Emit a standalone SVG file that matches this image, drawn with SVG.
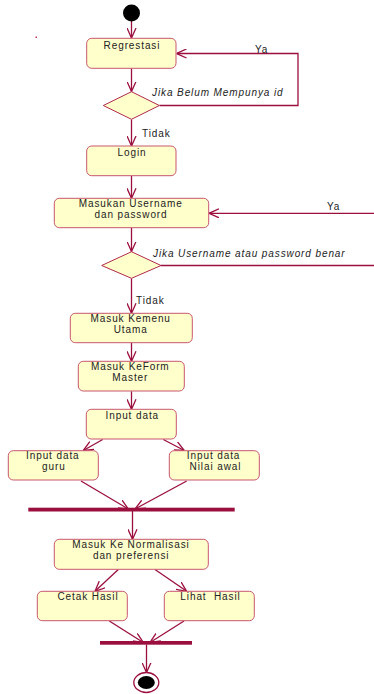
<svg xmlns="http://www.w3.org/2000/svg" width="374" height="694" viewBox="0 0 374 694">
<style>
.bg{fill:#ffffff}
.box{fill:#ffffcc;stroke:#c8566e;stroke-width:1}
.dia{fill:#ffffcc;stroke:#b0284c;stroke-width:1}
.ln{fill:none;stroke:#9b0f3e;stroke-width:1.3}
.arr{fill:none;stroke:#9b0f3e;stroke-width:1.3;marker-end:url(#ah)}
.bar{fill:#9b0f3e}
.t{font-family:"Liberation Sans",Arial,sans-serif;font-size:10px;fill:#222;letter-spacing:0.9px}
.c{text-anchor:middle}
.i{font-style:italic}
</style>
<defs>
<marker id="ah" viewBox="0 0 10 10" refX="10" refY="5" markerWidth="10" markerHeight="10" markerUnits="userSpaceOnUse" orient="auto">
<path d="M0,0.5 L10,5 L0,9.5" fill="none" stroke="#9b0f3e" stroke-width="1.3"/>
</marker>
</defs>
<rect class="bg" x="0" y="0" width="374" height="694"/>
<rect x="35.5" y="36.5" width="1.5" height="1.5" fill="#c0306a"/>

<g id="connectors">
<line class="arr" x1="131.5" y1="21" x2="131.5" y2="38"/>
<line class="arr" x1="131.5" y1="68.5" x2="131.5" y2="91.5"/>
<polyline class="arr" points="159.5,105.5 298,105.5 298,53.5 176.5,53.5"/>
<line class="arr" x1="131.5" y1="119.5" x2="131.5" y2="146"/>
<line class="arr" x1="131.5" y1="176" x2="131.5" y2="198.3"/>
<line class="arr" x1="374" y1="213.3" x2="209" y2="213.3"/>
<line class="arr" x1="131.5" y1="228" x2="131.5" y2="251.5"/>
<line class="ln" x1="161" y1="265.5" x2="374" y2="265.5"/>
<line class="arr" x1="131.5" y1="278.5" x2="131.5" y2="313.3"/>
<line class="arr" x1="131.5" y1="343" x2="131.5" y2="361.3"/>
<line class="arr" x1="131.5" y1="391.3" x2="131.5" y2="409.3"/>
<line class="arr" x1="102.7" y1="439.5" x2="83.3" y2="450.5"/>
<line class="arr" x1="163.3" y1="439.5" x2="184.3" y2="450.5"/>
<line class="arr" x1="81" y1="481" x2="128.3" y2="509"/>
<line class="arr" x1="186.7" y1="481" x2="135" y2="509"/>
<line class="arr" x1="132.5" y1="511" x2="132.5" y2="539.3"/>
<line class="arr" x1="118.3" y1="569.5" x2="95" y2="591.3"/>
<line class="arr" x1="155" y1="569.5" x2="186.7" y2="591.3"/>
<line class="arr" x1="109.3" y1="621" x2="143.3" y2="642.5"/>
<line class="arr" x1="184" y1="621" x2="150" y2="642.5"/>
<line class="arr" x1="146.5" y1="644.5" x2="146.5" y2="672.5"/>
<text class="t" x="255" y="53">Ya</text>
<text class="t i" x="152" y="96">Jika Belum Mempunya id</text>
<text class="t" x="142" y="137">Tidak</text>
<text class="t" x="327" y="210">Ya</text>
<text class="t i" x="153" y="256.5">Jika Username atau password benar</text>
<text class="t" x="136" y="303.5">Tidak</text>
</g>

<g id="start"><circle cx="131.5" cy="13" r="8.5" fill="#000"/></g>

<g id="regrestasi">
<rect class="box" x="86.7" y="38.3" width="89.3" height="30" rx="5"/>
<text class="t c" x="132" y="48.5">Regrestasi</text>
</g>

<g id="decision1"><polygon class="dia" points="131.5,91.7 159.3,105.5 131.5,119.3 103.3,105.5"/></g>

<g id="login">
<rect class="box" x="86.7" y="146" width="89.3" height="29.7" rx="5"/>
<text class="t c" x="132" y="155.7">Login</text>
</g>

<g id="masukan">
<rect class="box" x="54.3" y="198.3" width="154.4" height="29.4" rx="5"/>
<text class="t c" x="130.7" y="207.3">Masukan Username</text>
<text class="t c" x="131" y="217.8">dan password</text>
</g>

<g id="decision2"><polygon class="dia" points="131.5,251.7 161,265.5 131.5,278.3 101.7,265.5"/></g>

<g id="menu">
<rect class="box" x="70.3" y="313.3" width="122" height="29.4" rx="5"/>
<text class="t c" x="130.7" y="322.3">Masuk Kemenu</text>
<text class="t c" x="130.7" y="333.3">Utama</text>
</g>

<g id="form">
<rect class="box" x="78.3" y="361.3" width="106" height="29.7" rx="5"/>
<text class="t c" x="130.3" y="370.3">Masuk KeForm</text>
<text class="t c" x="130.3" y="381.3">Master</text>
</g>

<g id="input">
<rect class="box" x="86.3" y="409.3" width="90" height="29.7" rx="5"/>
<text class="t c" x="132.3" y="419.3">Input data</text>
</g>

<g id="guru">
<rect class="box" x="8.3" y="450.7" width="90" height="29.3" rx="5"/>
<text class="t c" x="52.8" y="459.3">Input data</text>
<text class="t c" x="53.8" y="469.5">guru</text>
</g>

<g id="nilai">
<rect class="box" x="169.3" y="450.7" width="90" height="29.3" rx="5"/>
<text class="t c" x="213.6" y="459.3">Input data</text>
<text class="t c" x="215.5" y="470">Nilai awal</text>
</g>

<g id="fork1"><rect class="bar" x="28.3" y="507.7" width="206.4" height="3.8"/></g>

<g id="normalisasi">
<rect class="box" x="54.3" y="539.3" width="154" height="30" rx="5"/>
<text class="t c" x="131" y="547.7">Masuk Ke Normalisasi</text>
<text class="t c" x="131.2" y="558.7">dan preferensi</text>
</g>

<g id="cetak">
<rect class="box" x="37.3" y="591.3" width="90" height="29.4" rx="5"/>
<text class="t c" x="88" y="600.3">Cetak Hasil</text>
</g>

<g id="lihat">
<rect class="box" x="164.3" y="591.3" width="90" height="29.4" rx="5"/>
<text class="t c" x="210.5" y="600.3" xml:space="preserve">Lihat  Hasil</text>
</g>

<g id="fork2"><rect class="bar" x="100" y="641" width="92" height="3.7"/></g>

<g id="end">
<ellipse cx="146.3" cy="682.5" rx="12.5" ry="10" fill="#fff" stroke="#9b0f3e" stroke-width="1.3"/>
<ellipse cx="146.3" cy="682.5" rx="8.5" ry="6.5" fill="#000"/>
</g>
</svg>
